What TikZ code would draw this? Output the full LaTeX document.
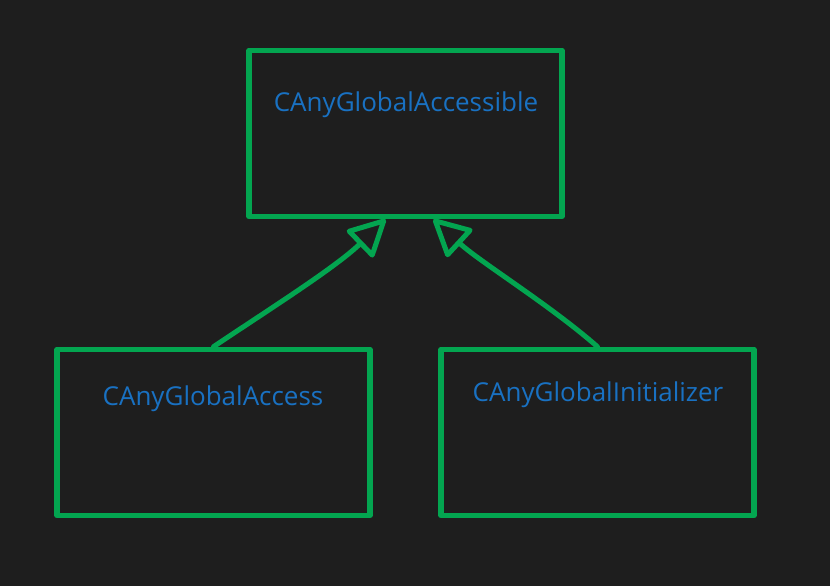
\documentclass[tikz,border=0pt]{standalone}
\usepackage{fontspec}
\setmainfont{Open Sans}
\usetikzlibrary{arrows.meta, positioning}
\definecolor{cBack}{HTML}{1E1E1E}
\definecolor{cBox}{HTML}{03A550}
\definecolor{cText}{HTML}{1971C2}
\tikzset{
  classbox/.style={
    draw=cBox, line width=5.5pt, line join=round,
    minimum width=313pt, minimum height=166pt,
    inner sep=0pt,
  },
  classname/.style={
    font=\fontsize{26}{30}\selectfont, text=cText,
  },
  inherit/.style={
    draw=cBox, line width=5pt, line cap=round,
    -{Triangle[round, fill=cBack, length=40pt, width=40pt]},
  },
}
\begin{document}
\begin{tikzpicture}[x=1pt, y=-1pt]

  % canvas
  \fill[cBack] (0,0) rectangle (830,586);
  \useasboundingbox (0,0) rectangle (830,586);

  % base class
  \node[classbox] (accessible) at (405.5,133.5) {};
  \node[classname] (accessibleName) at (406,105) {CAnyGlobalAccessible};

  % derived classes
  \node[classbox] (access) at (213.5,432.5) {};
  \node[classname] (accessName) at (213,399) {CAnyGlobalAccess};

  \node[classbox] (init) at (597.5,432.5) {};
  \node[classname] (initName) at (598,395) {CAnyGlobalInitializer};

  % inheritance arrows
  \draw[inherit] (access.north) .. controls (265,312) and (335,268)
    .. ([xshift=-20pt]accessible.south);
  \draw[inherit] (init.north) .. controls (550,305) and (480,262)
    .. ([xshift=28pt]accessible.south);

\end{tikzpicture}
\end{document}
